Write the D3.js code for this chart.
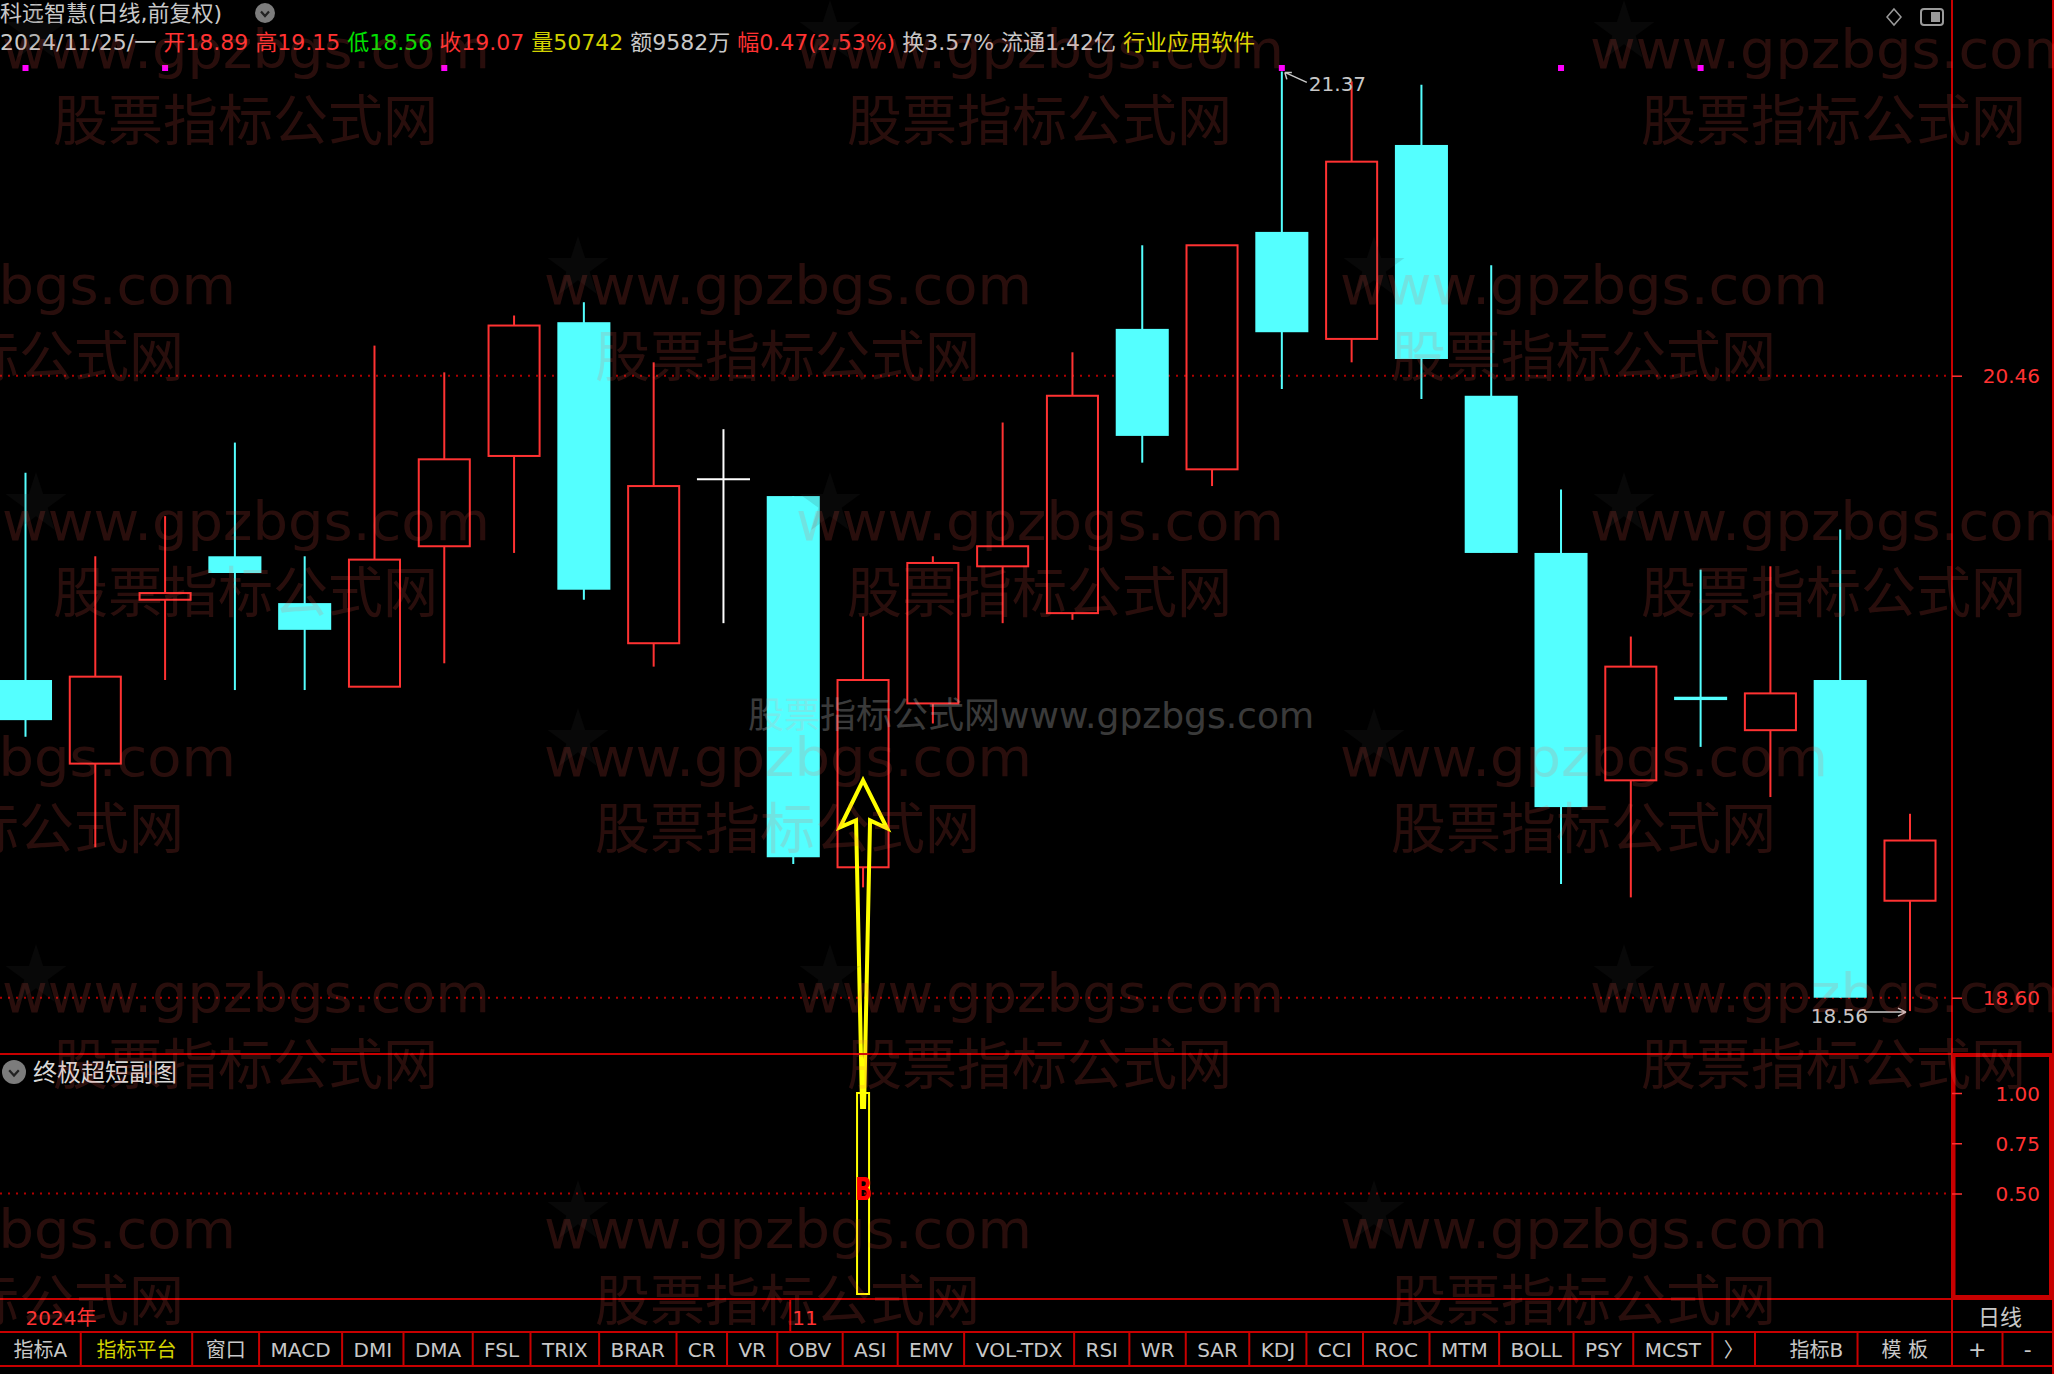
<!DOCTYPE html>
<html><head><meta charset="utf-8">
<script src="https://cdn.jsdelivr.net/npm/d3@7/dist/d3.min.js"></script>
<style>
html,body{margin:0;padding:0;background:#000;overflow:hidden;}
svg{display:block;}
text{font-family:"DejaVu Sans","Noto Sans CJK SC",sans-serif;}
</style></head><body>
<svg id="chart" width="2054" height="1374"></svg>
<script>
// ---------------- data ----------------
const dates = ["2024-10-17","2024-10-18","2024-10-21","2024-10-22","2024-10-23","2024-10-24","2024-10-25","2024-10-28","2024-10-29","2024-10-30","2024-10-31","2024-11-01","2024-11-04","2024-11-05","2024-11-06","2024-11-07","2024-11-08","2024-11-11","2024-11-12","2024-11-13","2024-11-14","2024-11-15","2024-11-18","2024-11-19","2024-11-20","2024-11-21","2024-11-22","2024-11-25"];
const opens  = [19.55,19.30,19.79,19.92,19.78,19.53,19.95,20.22,20.62,19.66,20.15,20.10,18.99,19.48,19.89,19.75,20.60,20.18,20.89,20.57,21.15,20.40,19.93,19.25,19.50,19.40,19.55,18.89];
const highs  = [20.17,19.92,20.04,20.26,19.92,20.55,20.47,20.64,20.68,20.50,20.30,20.10,19.74,19.92,20.32,20.53,20.85,20.85,21.37,21.34,21.33,20.79,20.12,19.68,19.88,19.89,20.00,19.15];
const lows   = [19.38,19.05,19.55,19.52,19.52,19.53,19.60,19.93,19.79,19.59,19.72,19.00,18.93,19.42,19.72,19.73,20.20,20.13,20.42,20.50,20.39,19.93,18.94,18.90,19.35,19.20,18.60,18.56];
const closes = [19.43,19.56,19.81,19.87,19.70,19.91,20.21,20.61,19.82,20.13,20.15,19.02,19.55,19.90,19.95,20.40,20.28,20.85,20.59,21.10,20.51,19.93,19.17,19.59,19.49,19.51,18.60,19.07];
const priceTicks = [20.46, 18.60];
const subTicks = [1.00, 0.75, 0.50];
const subGrid = [0.50];
const signalDates = ["2024-11-04"];
const signalValues = [1];
const arrowTipPrices = [19.25];
const markerDates = ["2024-10-17","2024-10-21","2024-10-25","2024-11-12","2024-11-18","2024-11-20"];
const stockTitle = "科远智慧(日线,前复权)";
const quoteDate = "2024/11/25/一";
const quoteLabels = ["开","高","低","收","量","额","幅","换","流通"];
const quoteValues = ["18.89","19.15","18.56","19.07","50742","9582万","0.47(2.53%)","3.57%","1.42亿"];
const industry = "行业应用软件";
const subTitle = "终极超短副图";
const yearLabel = "2024年";
const periodLabel = "日线";
const tabLabels = ["指标A","指标平台","窗口","MACD","DMI","DMA","FSL","TRIX","BRAR","CR","VR","OBV","ASI","EMV","VOL-TDX","RSI","WR","SAR","KDJ","CCI","ROC","MTM","BOLL","PSY","MCST","〉"];
const rightTabLabels = ["指标B","模 板"];
const zoomLabels = ["+","-"];
const wmSite = "www.gpzbgs.com";
const wmName = "股票指标公式网";

// ---------------- layout / styles ----------------
const W = 2054, H = 1374, plotR = 1952;
const RED = "#ff3232", CYAN = "#54ffff", FRAME = "#c80000", GRAY = "#c8c8c8", YEL = "#d2d200";
const svg = d3.select("#chart");
svg.append("rect").attr("width", W).attr("height", H).attr("fill", "#000");

const x = d3.scaleBand().domain(dates).range([-9.4, 1944.9]).paddingInner(0.24).paddingOuter(0.12);
const bw = x.bandwidth();
const cx = d => x(d) + bw / 2;
const y = d3.scaleLinear().domain([18.60, 20.46]).range([997.7, 375.7]);
const ys = d3.scaleLinear().domain([0, 1]).range([1294, 1093]);

const candles = dates.map((d, i) => ({ d, o: opens[i], h: highs[i], l: lows[i], c: closes[i] }));

// grid dotted lines
svg.append("g").selectAll("line").data(priceTicks).join("line")
  .attr("x1", 0).attr("x2", plotR).attr("y1", d => y(d)).attr("y2", d => y(d))
  .attr("stroke", "#b00000").attr("stroke-width", 2).attr("stroke-dasharray", "2,6");
svg.append("g").selectAll("line").data(subGrid).join("line")
  .attr("x1", 0).attr("x2", plotR).attr("y1", d => ys(d)).attr("y2", d => ys(d))
  .attr("stroke", "#b00000").attr("stroke-width", 2).attr("stroke-dasharray", "2,6");

// candles
const cg = svg.append("g");
candles.forEach(k => {
  const xc = cx(k.d);
  if (k.c > k.o) {
    cg.append("line").attr("x1", xc).attr("x2", xc).attr("y1", y(k.h)).attr("y2", y(k.c)).attr("stroke", RED).attr("stroke-width", 2);
    cg.append("line").attr("x1", xc).attr("x2", xc).attr("y1", y(k.o)).attr("y2", y(k.l)).attr("stroke", RED).attr("stroke-width", 2);
    cg.append("rect").attr("x", x(k.d) + 1).attr("width", bw - 2).attr("y", y(k.c)).attr("height", y(k.o) - y(k.c))
      .attr("fill", "none").attr("stroke", RED).attr("stroke-width", 2);
  } else if (k.c < k.o) {
    cg.append("line").attr("x1", xc).attr("x2", xc).attr("y1", y(k.h)).attr("y2", y(k.l)).attr("stroke", CYAN).attr("stroke-width", 2);
    cg.append("rect").attr("x", x(k.d)).attr("width", bw).attr("y", y(k.o)).attr("height", Math.max(2, y(k.c) - y(k.o)))
      .attr("fill", CYAN);
  } else {
    cg.append("line").attr("x1", xc).attr("x2", xc).attr("y1", y(k.h)).attr("y2", y(k.l)).attr("stroke", "#fff").attr("stroke-width", 2);
    cg.append("line").attr("x1", x(k.d)).attr("x2", x(k.d) + bw).attr("y1", y(k.c)).attr("y2", y(k.c)).attr("stroke", "#fff").attr("stroke-width", 2);
  }
});

// magenta info markers
svg.append("g").selectAll("rect").data(markerDates).join("rect")
  .attr("x", d => cx(d) - 3).attr("y", 65).attr("width", 6).attr("height", 6).attr("fill", "#ff00ff");

// high / low labels
const hiIdx = d3.maxIndex(highs), loIdx = d3.minIndex(lows);
{
  const xh = cx(dates[hiIdx]), yh = y(highs[hiIdx]);
  svg.append("path").attr("d", `M${xh + 3},${yh + 1} L${xh + 25},${yh + 11} M${xh + 3},${yh + 1} l7,0 M${xh + 3},${yh + 1} l2,7`)
    .attr("stroke", GRAY).attr("stroke-width", 1.5).attr("fill", "none");
  svg.append("text").attr("x", xh + 27).attr("y", yh + 20).attr("fill", GRAY).attr("font-size", 20).text(highs[hiIdx].toFixed(2));
  const xl = cx(dates[loIdx]), yl = y(lows[loIdx]);
  svg.append("path").attr("d", `M${xl - 46},${yl + 1} L${xl - 4},${yl + 1} M${xl - 4},${yl + 1} l-8,-4 M${xl - 4},${yl + 1} l-8,4`)
    .attr("stroke", GRAY).attr("stroke-width", 1.5).attr("fill", "none");
  svg.append("text").attr("x", xl - 42).attr("y", yl + 12).attr("text-anchor", "end").attr("fill", GRAY).attr("font-size", 20).text(lows[loIdx].toFixed(2));
}

// sub panel signal bar
svg.append("g").selectAll("rect").data(signalDates).join("rect")
  .attr("x", d => cx(d) - 6).attr("width", 12)
  .attr("y", (d, i) => ys(signalValues[i])).attr("height", (d, i) => ys(0) - ys(signalValues[i]))
  .attr("fill", "none").attr("stroke", "#ffff00").attr("stroke-width", 2);
svg.append("g").selectAll("text").data(signalDates).join("text")
  .attr("x", d => cx(d) - 8).attr("y", ys(0.47)).attr("fill", "#ff0000").attr("font-weight", "bold")
  .attr("font-size", 32).attr("font-family", "Liberation Sans").attr("textLength", 17).attr("lengthAdjust", "spacingAndGlyphs").text("B");

// arrows
signalDates.forEach((d, i) => {
  const xc = cx(d), ty = y(arrowTipPrices[i]), L = ys(0.93) - ty;
  const pts = [[0, 0], [24, 48], [7, 40], [1, L], [-1, L], [-7, 40], [-23, 47]];
  svg.append("path").attr("d", d3.line()(pts.map(p => [xc + p[0], ty + p[1]])) + "Z")
    .attr("fill", "none").attr("stroke", "#ffff00").attr("stroke-width", 4).attr("stroke-linejoin", "miter");
});

// frames
const fr = svg.append("g").attr("stroke", FRAME).attr("stroke-width", 2);
[1054, 1299, 1332, 1366].forEach(v => fr.append("line").attr("x1", 0).attr("x2", W).attr("y1", v).attr("y2", v));
fr.append("line").attr("x1", plotR).attr("x2", plotR).attr("y1", 0).attr("y2", 1366);
fr.append("line").attr("x1", 2053).attr("x2", 2053).attr("y1", 0).attr("y2", H);
svg.append("rect").attr("x", 1954).attr("y", 1055.5).attr("width", 96.5).attr("height", 241)
  .attr("fill", "none").attr("stroke", FRAME).attr("stroke-width", 3);

// axes
function styleAxis(g) {
  g.select(".domain").remove();
  g.selectAll(".tick line").attr("stroke", RED).attr("stroke-width", 1.5);
  g.selectAll(".tick text").attr("x", 88).attr("text-anchor", "end").attr("fill", RED)
    .attr("font-size", 20).attr("font-family", "DejaVu Sans").attr("dy", "0.36em");
}
svg.append("g").attr("transform", `translate(${plotR},0)`)
  .call(d3.axisRight(y).tickValues(priceTicks).tickSize(10).tickFormat(d3.format(".2f"))).call(styleAxis);
svg.append("g").attr("transform", `translate(${plotR},0)`)
  .call(d3.axisRight(ys).tickValues(subTicks).tickSize(10).tickFormat(d3.format(".2f"))).call(styleAxis);

// date axis
const firstNov = dates.find(d => d.slice(5, 7) === "11");
svg.append("line").attr("x1", cx(firstNov) - 3).attr("x2", cx(firstNov) - 3).attr("y1", 1300).attr("y2", 1331)
  .attr("stroke", FRAME).attr("stroke-width", 2);
svg.append("text").attr("x", cx(firstNov) - 1).attr("y", 1325).attr("fill", RED).attr("font-size", 20).text(String(+firstNov.slice(5, 7)));
svg.append("text").attr("x", cx(dates[0])).attr("y", 1325).attr("fill", RED).attr("font-size", 20).text(yearLabel);
svg.append("text").attr("x", 2000).attr("y", 1325).attr("text-anchor", "middle").attr("fill", GRAY).attr("font-size", 22).text(periodLabel);

// header
svg.append("text").attr("x", 0).attr("y", 21).attr("fill", GRAY).attr("font-size", 22).text(stockTitle);
function chevIcon(g, ccx, ccy, r) {
  g.append("circle").attr("cx", ccx).attr("cy", ccy).attr("r", r).attr("fill", "#7c7c7c");
  g.append("path").attr("d", `M${ccx - r * 0.4},${ccy - r * 0.15} L${ccx},${ccy + r * 0.3} L${ccx + r * 0.4},${ccy - r * 0.15}`)
    .attr("stroke", "#222").attr("stroke-width", 2.2).attr("fill", "none");
}
chevIcon(svg, 265, 13, 10);
const qColor = { "开": RED, "高": RED, "低": "#00e000", "收": RED, "量": YEL, "额": GRAY, "幅": RED, "换": GRAY, "流通": GRAY };
const hdrItems = [{ t: quoteDate, c: GRAY }].concat(quoteLabels.map((l, i) => ({ t: l + quoteValues[i], c: qColor[l] }))).concat([{ t: industry, c: "#dcdc00" }]);
let hx = 0;
hdrItems.forEach(it => {
  const t = svg.append("text").attr("x", hx).attr("y", 50).attr("fill", it.c).attr("font-size", 22).text(it.t);
  hx += t.node().getComputedTextLength() + 7;
});
// top-right icons
svg.append("path").attr("d", "M1894,9 L1901,17 L1894,25 L1887,17 Z").attr("fill", "none").attr("stroke", "#9a9a9a").attr("stroke-width", 1.5);
svg.append("rect").attr("x", 1921).attr("y", 9).attr("width", 22).attr("height", 16).attr("rx", 3).attr("fill", "none").attr("stroke", "#9a9a9a").attr("stroke-width", 2);
svg.append("rect").attr("x", 1931).attr("y", 12).attr("width", 9).attr("height", 10).attr("fill", "#9a9a9a");

// sub title
chevIcon(svg, 14, 1072, 12);
svg.append("text").attr("x", 33).attr("y", 1081).attr("fill", "#d8d8d8").attr("font-size", 24).text(subTitle);

// tabs
const tabG = svg.append("g");
const leftEnd = 1755;
const cjkCount = t => (t.match(/[\u4e00-\u9fff]/g) || []).length;
const tmp = tabLabels.map(t => { const n = tabG.append("text").attr("font-size", 20).text(t); const w = n.node().getComputedTextLength(); n.remove(); return w + 22 + 2 * cjkCount(t); });
const k = leftEnd / d3.sum(tmp);
let tx = 0;
tabLabels.forEach((t, i) => {
  const w = tmp[i] * k;
  tabG.append("text").attr("x", tx + w / 2).attr("y", 1357).attr("text-anchor", "middle").attr("font-size", 20)
    .attr("fill", t === "指标平台" ? YEL : GRAY).text(t);
  tx += w;
  tabG.append("line").attr("x1", tx).attr("x2", tx).attr("y1", 1332).attr("y2", 1366).attr("stroke", FRAME).attr("stroke-width", 2);
});
const rw = rightTabLabels.map(t => { const n = tabG.append("text").attr("font-size", 20).text(t); const w = n.node().getComputedTextLength(); n.remove(); return w + 40; });
const rk = (plotR - leftEnd) / d3.sum(rw);
rightTabLabels.forEach((t, i) => {
  const w = rw[i] * rk;
  tabG.append("text").attr("x", tx + w / 2 + (i === 0 ? 10 : 0)).attr("y", 1357).attr("text-anchor", "middle").attr("font-size", 20).attr("fill", GRAY).text(t);
  tx += w;
  tabG.append("line").attr("x1", tx).attr("x2", tx).attr("y1", 1332).attr("y2", 1366).attr("stroke", FRAME).attr("stroke-width", 2);
});
const zb = d3.scaleBand().domain(zoomLabels).range([plotR, 2053]);
zoomLabels.forEach(t => {
  tabG.append("text").attr("x", zb(t) + zb.bandwidth() / 2).attr("y", 1357).attr("text-anchor", "middle").attr("font-size", 22).attr("fill", GRAY).text(t);
  tabG.append("line").attr("x1", zb(t) + zb.bandwidth()).attr("x2", zb(t) + zb.bandwidth()).attr("y1", 1332).attr("y2", 1366).attr("stroke", FRAME).attr("stroke-width", 2);
});

// watermarks (semi-transparent overlay)
const wm = svg.append("g").attr("pointer-events", "none");
const rowsA = { xs: [2, 796, 1590], ys: [68, 540, 1012] };
const rowsB = { xs: [-252, 544, 1340], ys: [304, 776, 1248] };
[rowsA, rowsB].forEach(r => r.ys.forEach(by => r.xs.forEach(bx => {
  wm.append("path").attr("d", d3.symbol(d3.symbolStar, 1150)()).attr("transform", `translate(${bx + 34},${by - 36})`)
    .attr("fill", "#3c3c3c").attr("opacity", 0.14);
  wm.append("text").attr("x", bx).attr("y", by).attr("font-family", "Noto Sans CJK SC").attr("font-size", 53)
    .attr("textLength", 488).attr("lengthAdjust", "spacingAndGlyphs").attr("fill", "#ff5a4c").attr("opacity", 0.16).text(wmSite);
  wm.append("text").attr("x", bx + 51).attr("y", by + 72).attr("font-family", "Noto Sans CJK SC").attr("font-size", 55)
    .attr("textLength", 385).attr("lengthAdjust", "spacingAndGlyphs").attr("fill", "#ff5a4c").attr("opacity", 0.16).text(wmName);
})));
wm.append("text").attr("x", 748).attr("y", 728).attr("font-family", "Liberation Serif, DejaVu Serif, serif").attr("font-size", 36)
  .attr("textLength", 566).attr("lengthAdjust", "spacingAndGlyphs").attr("fill", "#c0c0c0").attr("opacity", 0.3).text(wmName + wmSite);
</script>
</body></html>
